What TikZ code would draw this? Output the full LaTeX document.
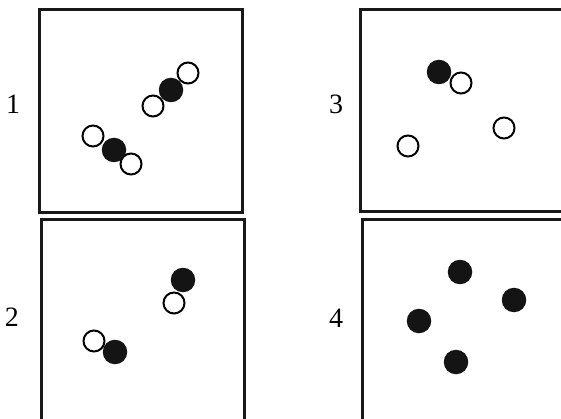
\documentclass[tikz,border=0pt]{standalone}
\usepackage{fontspec}
\setmainfont{Liberation Serif}
\begin{document}
\begin{tikzpicture}[x=1pt,y=-1pt,
  frame/.style={draw=black!90,line width=3pt},
  openat/.style={circle,draw=black,line width=2pt,fill=white,minimum size=21pt,inner sep=0pt},
  fullat/.style={circle,fill=black!92,minimum size=24.5pt,inner sep=0pt},
  lab/.style={font=\fontsize{28}{30}\selectfont,inner sep=0pt}]
\useasboundingbox (0,0) rectangle (561,419);
\clip (0,0) rectangle (561,419);
% frames
\draw[frame] (39,10) rectangle (242,213);
\draw[frame] (41,220) rectangle (244,440);
\draw[frame] (360,10) rectangle (600,212);
\draw[frame] (362,220) rectangle (600,440);
% labels
\node[lab] (l1) at (13,104) {1};
\node[lab] (l3) at (336,104) {3};
\node[lab] (l2) at (12,317) {2};
\node[lab] (l4) at (336,318) {4};
% panel 1
\node[openat] (a1) at (188,73) {};
\node[openat] (a2) at (153,106) {};
\node[fullat] (a3) at (171,90) {};
\node[openat] (a4) at (93,136) {};
\node[openat] (a5) at (131,164) {};
\node[fullat] (a6) at (114,150) {};
% panel 3
\node[fullat] (c1) at (439,72) {};
\node[openat] (c2) at (461,83) {};
\node[openat] (c3) at (504,128) {};
\node[openat] (c4) at (408,146) {};
% panel 2
\node[openat] (b1) at (174,303) {};
\node[fullat] (b2) at (183,280) {};
\node[openat] (b3) at (94,341) {};
\node[fullat] (b4) at (115,352) {};
% panel 4
\node[fullat] (d1) at (460,272) {};
\node[fullat] (d2) at (514,300) {};
\node[fullat] (d3) at (419,321) {};
\node[fullat] (d4) at (456,362) {};
\end{tikzpicture}
\end{document}
